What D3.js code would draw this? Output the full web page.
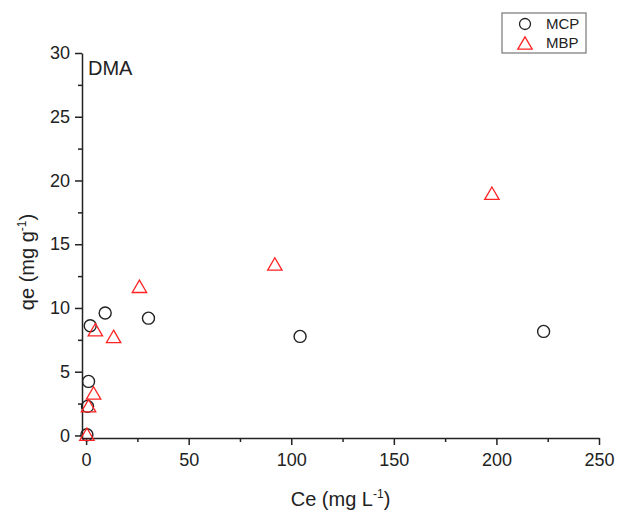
<!DOCTYPE html>
<html>
<head>
<meta charset="utf-8">
<script src="https://cdn.jsdelivr.net/npm/d3@7"></script>
<style>
  body { margin: 0; background: #fff; }
  text { font-family: "Liberation Sans", Arial, sans-serif; fill: #222; }
</style>
</head>
<body>
<div id="vis"></div>
<script>
// Data
var mcpCe = [0.4, 0.7, 1.2, 2.0, 9.3, 30.4, 104.3, 223];
var mcpQe = [0.05, 2.28, 4.24, 8.6, 9.6, 9.2, 7.77, 8.16];
var mbpCe = [0.4, 1.2, 3.65, 4.5, 13.4, 26, 92, 197.8];
var mbpQe = [0.1, 2.33, 3.33, 8.3, 7.77, 11.7, 13.45, 19.0];
var xTicks = [0, 50, 100, 150, 200, 250];
var yTicks = [0, 5, 10, 15, 20, 25, 30];
var seriesNames = ["MCP", "MBP"];

var width = 619, height = 513;
var margin = {top: 53, right: 20, bottom: 75, left: 82};
var drawWidth = width - margin.left - margin.right;
var drawHeight = height - margin.top - margin.bottom;

var svg = d3.select("#vis").append("svg").attr("width", width).attr("height", height);
var g = svg.append("g").attr("transform", "translate(" + margin.left + "," + margin.top + ")");

var xScale = d3.scaleLinear().domain([-2, 250]).range([0, drawWidth]);
var yScale = d3.scaleLinear().domain([-0.2, 30]).range([drawHeight, 0]);

// minor ticks first, then major ticks with labels
var xMinor = d3.axisBottom(xScale).tickValues(d3.range(25, 250, 50)).tickSize(4).tickFormat("");
var yMinor = d3.axisLeft(yScale).tickValues(d3.range(2.5, 30, 5)).tickSize(4).tickFormat("");
var xAxis = d3.axisBottom(xScale).tickValues(xTicks).tickSize(7).tickSizeOuter(0).tickPadding(8);
var yAxis = d3.axisLeft(yScale).tickValues(yTicks).tickSize(7).tickSizeOuter(0).tickPadding(5);

function styleAxis(sel, fs) {
    sel.selectAll("path, line").attr("stroke", "#222").attr("stroke-width", 1.5);
    sel.selectAll("text").attr("font-size", fs).attr("font-family", "Liberation Sans, Arial, sans-serif").attr("fill", "#222");
}

g.append("g").attr("transform", "translate(0," + drawHeight + ")").call(xMinor).call(styleAxis, 18).select(".domain").remove();
g.append("g").call(yMinor).call(styleAxis, 18).select(".domain").remove();
g.append("g").attr("transform", "translate(0," + drawHeight + ")").call(xAxis).call(styleAxis, 18);
g.append("g").call(yAxis).call(styleAxis, 18);

// axis titles
var xt = svg.append("text")
    .attr("x", margin.left + drawWidth / 2).attr("y", 506)
    .attr("text-anchor", "middle").attr("font-size", 20);
xt.append("tspan").text("Ce (mg L");
xt.append("tspan").text("-1").attr("font-size", 12).attr("dy", -8);
xt.append("tspan").text(")").attr("dy", 8);

var yt = svg.append("text")
    .attr("transform", "translate(34,262) rotate(-90)")
    .attr("text-anchor", "middle").attr("font-size", 20);
yt.append("tspan").text("qe (mg g");
yt.append("tspan").text("-1").attr("font-size", 12).attr("dy", -8);
yt.append("tspan").text(")").attr("dy", 8);

svg.append("text").attr("x", 88).attr("y", 75).attr("font-size", 20).text("DMA");

// points
var mcp = mcpCe.map(function(d, i) { return {x: d, y: mcpQe[i]}; });
var mbp = mbpCe.map(function(d, i) { return {x: d, y: mbpQe[i]}; });

// open triangle centred on its bounding box
var tri = "M0,-6.2L7.2,6.2L-7.2,6.2Z";

g.selectAll(".mcp").data(mcp).enter().append("circle")
    .attr("class", "mcp")
    .attr("cx", function(d) { return xScale(d.x); })
    .attr("cy", function(d) { return yScale(d.y); })
    .attr("r", 6)
    .attr("fill", "none").attr("stroke", "#222").attr("stroke-width", 1.4);

g.selectAll(".mbp").data(mbp).enter().append("path")
    .attr("class", "mbp")
    .attr("d", tri)
    .attr("transform", function(d) { return "translate(" + xScale(d.x) + "," + yScale(d.y) + ")"; })
    .attr("fill", "none").attr("stroke", "#f22").attr("stroke-width", 1.3);

// legend
var lg = svg.append("g");
lg.append("rect").attr("x", 502).attr("y", 13).attr("width", 84).attr("height", 40)
    .attr("fill", "#fff").attr("stroke", "#777").attr("stroke-width", 1.2);
lg.append("circle").attr("cx", 525).attr("cy", 24).attr("r", 5.5)
    .attr("fill", "none").attr("stroke", "#222").attr("stroke-width", 1.3);
lg.append("path").attr("d", tri).attr("transform", "translate(525,43)")
    .attr("fill", "none").attr("stroke", "#f22").attr("stroke-width", 1.3);
lg.selectAll(".lt").data(seriesNames).enter().append("text")
    .attr("x", 546).attr("y", function(d, i) { return 29 + i * 19; })
    .attr("font-size", 15).text(function(d) { return d; });
</script>
</body>
</html>
